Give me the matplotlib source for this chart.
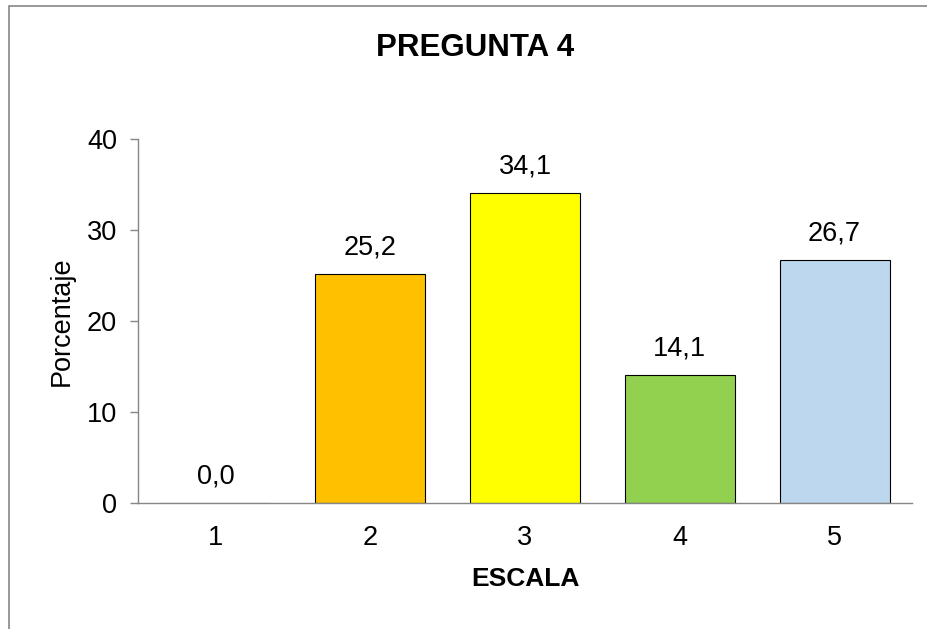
import matplotlib
matplotlib.use('Agg')
import matplotlib.pyplot as plt
from matplotlib.patches import Rectangle

plt.rcParams['font.family'] = ['Liberation Sans', 'DejaVu Sans']

categorias = ['1', '2', '3', '4', '5']
porcentajes = [0.0, 25.2, 34.1, 14.1, 26.7]
colores = ['#4472C4', '#FFC000', '#FFFF00', '#92D050', '#BDD7EE']
etiquetas = ['0,0', '25,2', '34,1', '14,1', '26,7']

fig = plt.figure(figsize=(9.28, 6.29), dpi=100)
ax = fig.add_axes([138/928, 1 - 503/629, (912-138)/928, (503-139)/629])

x = range(len(categorias))
ax.bar(x, porcentajes, width=0.71, color=colores, edgecolor='black', linewidth=0.8)
for i, v in enumerate(porcentajes):
    ax.text(i, v + 2.9, etiquetas[i], ha='center', va='center', fontsize=19.5)

ax.set_xlim(-0.5, 4.5)
ax.set_ylim(0, 40)
ax.set_yticks([0, 10, 20, 30, 40])
ax.set_xticks(list(x))
ax.set_xticklabels(categorias)
ax.tick_params(axis='y', labelsize=19.5, color='#868686', length=6, width=1, pad=9)
ax.tick_params(axis='x', labelsize=19.5, length=0, pad=16)
for s in ['top', 'right']:
    ax.spines[s].set_visible(False)
for s in ['left', 'bottom']:
    ax.spines[s].set_color('#868686')
    ax.spines[s].set_linewidth(1)

ax.set_ylabel('Porcentaje', fontsize=19.5, labelpad=9)
ax.set_xlabel('ESCALA', fontsize=19, fontweight='bold', labelpad=11)
fig.text(475/928, 1 - 48/629, 'PREGUNTA 4', ha='center', va='center', fontsize=22.5, fontweight='bold')

# borde del área del gráfico
fig.patches.append(Rectangle((9/928, -0.1), 1.1, 1 - 6/629 + 0.1, transform=fig.transFigure,
                             fill=False, edgecolor='#868686', linewidth=1.2))

fig.savefig('out.png', dpi=100)
